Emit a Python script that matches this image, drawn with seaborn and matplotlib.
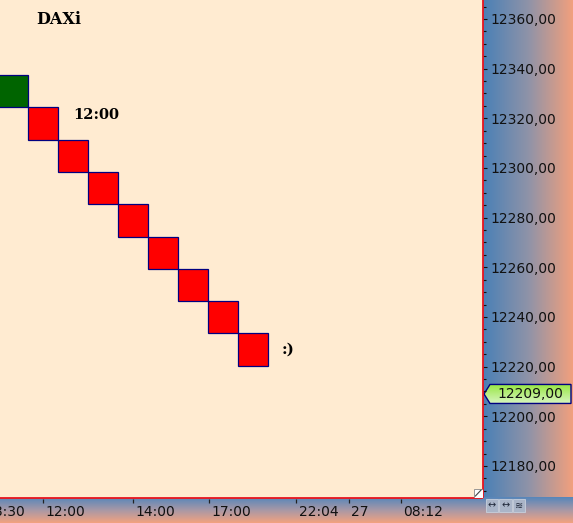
import numpy as np
import pandas as pd
import seaborn as sns
import matplotlib.pyplot as plt
from matplotlib.colors import LinearSegmentedColormap
from matplotlib.patches import Polygon, Rectangle
from matplotlib.ticker import MultipleLocator, FuncFormatter

# renko bricks
brick_open = [12324.4, 12324.4, 12311.4, 12298.4, 12285.4, 12272.4, 12259.4, 12246.4, 12233.4]
brick_close = [12337.4, 12311.4, 12298.4, 12285.4, 12272.4, 12259.4, 12246.4, 12233.4, 12220.4]
time_ticks = [-1.0, 1.0, 4.0, 6.55, 9.45, 11.2, 12.95]
time_labels = ["08:30", "12:00", "14:00", "17:00", "22:04", "27", "08:12"]
last_price = 12209.0
symbol = "DAXi"

df = pd.DataFrame({"brick": range(len(brick_open)), "open": brick_open, "close": brick_close})
df["low"] = df[["open", "close"]].min(axis=1)
df["height"] = (df["close"] - df["open"]).abs()
df["dir"] = np.where(df["close"] > df["open"], "up", "down")

sns.set_style("ticks")
plt.rcParams['font.family'] = ['DejaVu Sans']

W, H = 573, 523
fig = plt.figure(figsize=(W / 100, H / 100), dpi=100)

# background panels in pixel coords
bg = fig.add_axes([0, 0, 1, 1], zorder=0)
bg.axis('off')

grad = np.linspace(0, 1, 256)
side_cmap = LinearSegmentedColormap.from_list("side", ["#4a80b6", "#8f93a8", "#f4a07c"])
bg.imshow(grad[None, :], cmap=side_cmap, aspect='auto', extent=(482.5, W, 497.5, 0), interpolation='bilinear')
bg.imshow(grad[:, None], cmap=LinearSegmentedColormap.from_list("bot", ["#5686ba", "#a898a6", "#f3a27f"]),
          aspect='auto', extent=(0, W, H, 497.5), interpolation='bilinear')
for i, g in enumerate(["↔", "↔", "≋"]):
    x0 = 485.5 + i * 13.5
    bg.add_patch(Rectangle((x0, 499), 12.5, 12.5, facecolor="#aab5c8", edgecolor="#c8d0dc", lw=0.6))
    bg.text(x0 + 6.25, 505.5, g, ha='center', va='center', fontsize=7, color="#20283a")

# main chart
ax = fig.add_axes([0, 25.5 / H, 482.5 / W, 497.5 / H], zorder=2)
ax.set_facecolor("#ffebd1")

colors = {"up": "#006400", "down": "#ff0000"}
for d in ["up", "down"]:
    sub = df[df["dir"] == d]
    sns.barplot(data=sub, x="brick", y="height", bottom=sub["low"].to_numpy(), native_scale=True,
                orient="x", width=1.0, color=colors[d], saturation=1, errorbar=None,
                edgecolor="#000080", linewidth=0.9, ax=ax)

ax.set_xlim(-0.433, 15.65)
ax.set_ylim(12167.3, 12367.65)
ax.set_xlabel("")
ax.set_ylabel("")
ax.set_xticks([])
ax.yaxis.tick_right()
ax.yaxis.set_major_locator(MultipleLocator(20))
ax.yaxis.set_minor_locator(MultipleLocator(5))
ax.yaxis.set_major_formatter(FuncFormatter(lambda v, p: f"{v:.2f}".replace(".", ",")))
ax.tick_params(axis='y', which='major', direction='out', length=3, width=0.8, pad=3,
               labelsize=10, colors="#111111")
ax.tick_params(axis='y', which='minor', direction='out', length=2, width=0.8, colors="#111111")
for s in ["top", "left"]:
    ax.spines[s].set_visible(False)
for s in ["right", "bottom"]:
    ax.spines[s].set_color("#e8141e")
    ax.spines[s].set_linewidth(1.3)

serif = dict(family="DejaVu Serif", weight="bold", color="black")
ax.text(0.075, 0.961, symbol, transform=ax.transAxes, ha='left', va='center', fontsize=11.5, **serif)
ax.text(2.0, 12321.5, "12:00", ha='left', va='center', fontsize=10.5, **serif)
ax.text(8.97, 12226.7, ":)", ha='left', va='center', fontsize=11, **serif)

# time axis strip
tax = fig.add_axes([0, 0, 482.5 / W, 25.5 / H], zorder=1)
tax.set_xlim(ax.get_xlim())
tax.set_ylim(0, 1)
tax.axis('off')
tax.vlines(time_ticks, 0.78, 0.95, color="#222222", lw=0.9)
for t, lab in zip(time_ticks, time_labels):
    tax.text(t + 0.07, 0.45, lab, ha='left', va='center', fontsize=10, color="#111111", clip_on=True)

# small icons in the plot corner
bg.text(466.5, 478, "-C⊐-", ha='center', va='center', fontsize=6, color="#222222",
        bbox=dict(facecolor="white", edgecolor="none", pad=0.8), zorder=5)

# current price tag
yd = ax.transData.transform((0, last_price))[1]
yp = H - yd
tag = Polygon([(484, yp), (490, yp - 9.5), (571, yp - 9.5), (571, yp + 9.5), (490, yp + 9.5)],
              closed=True, facecolor="none", edgecolor="#000080", lw=1.0, zorder=6)
bg.add_patch(tag)
im = bg.imshow(grad[:, None], cmap=LinearSegmentedColormap.from_list("tag", ["#96e640", "#d6f5bd"]),
               aspect='auto', extent=(484, 571, yp + 9.5, yp - 9.5), interpolation='bilinear', zorder=5)
im.set_clip_path(tag)
bg.text(530, yp, f"{last_price:.2f}".replace(".", ","), ha='center', va='center', fontsize=10,
        color="#111111", zorder=7)
bg.set_xlim(0, W)
bg.set_ylim(H, 0)

# resize grip
rx = fig.add_axes([474 / W, 25.5 / H, 8.5 / W, 9 / H], zorder=3)
rx.set_xlim(0, 1)
rx.set_ylim(0, 1)
rx.axis('off')
rx.add_patch(Rectangle((0, 0), 1, 1, facecolor="white", edgecolor="#888888", lw=0.6))
rx.plot([0.15, 0.85], [0.15, 0.85], color="#444444", lw=0.8)

fig.savefig("out.png", dpi=100)
